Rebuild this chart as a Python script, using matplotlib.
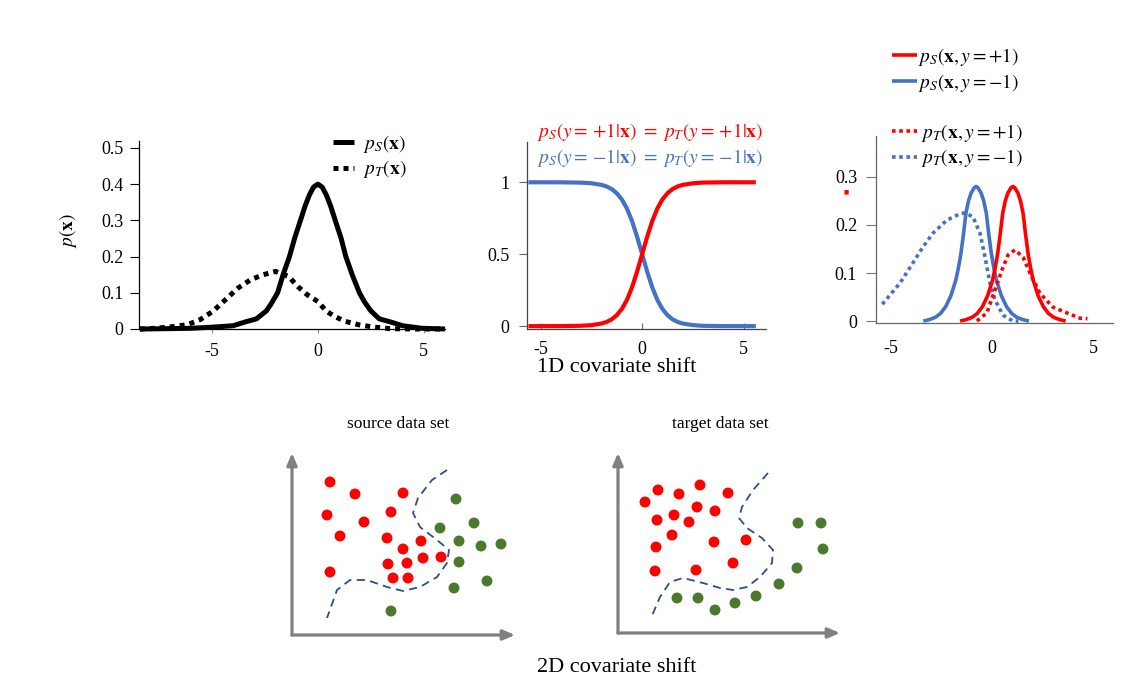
import matplotlib
matplotlib.use("Agg")
import matplotlib.pyplot as plt

plt.rcParams["font.family"] = ["Liberation Serif", "DejaVu Serif"]
plt.rcParams["mathtext.fontset"] = "stix"
plt.rcParams["axes.unicode_minus"] = False

RED = "#FF0000"
BLUE = "#4472C4"
GREEN = "#4B7A2E"
DASH_BLUE = "#2C4D8E"
GRAY = "#808080"

# ---------------- panel 1: marginal densities ----------------
p1_x_s = [-8.4, -7, -6, -5, -4, -3.4, -2.9, -2.43, -2.2, -1.9, -1.64, -1.34, -1.1, -0.82, -0.6, -0.4,
          -0.2, 0, 0.2, 0.4, 0.6, 0.82, 1.1, 1.32, 1.62, 1.96, 2.2, 2.5, 2.9, 3.4, 4.0, 4.9, 6.0]
p1_ps = [0, 0.001, 0.002, 0.005, 0.009, 0.02, 0.028, 0.05, 0.07, 0.1, 0.15, 0.2, 0.25, 0.3, 0.34, 0.37,
         0.392, 0.40, 0.392, 0.37, 0.34, 0.3, 0.25, 0.2, 0.15, 0.1, 0.075, 0.05, 0.028, 0.02, 0.009, 0.002, 0.0]
p1_x_t = [-8.4, -7.9, -7.0, -6.15, -5.55, -4.95, -4.36, -3.77, -3.17, -2.57, -2.0, -1.38, -0.94,
          -0.49, 0, 0.4, 0.85, 1.3, 1.9, 2.6, 3.4, 4.5, 6.0]
p1_pt = [0.0, 0.001, 0.0055, 0.012, 0.026, 0.049, 0.081, 0.113, 0.136, 0.15, 0.159, 0.145, 0.117,
         0.094, 0.076, 0.049, 0.033, 0.021, 0.012, 0.0055, 0.001, 0.0, 0.0]

# ---------------- panel 2: class posteriors ----------------
p2_x = [-5.6, -5, -4, -3, -2.5, -2, -1.75, -1.5, -1.25, -1, -0.75, -0.5, -0.25, 0,
        0.25, 0.5, 0.75, 1, 1.25, 1.5, 1.75, 2, 2.5, 3, 4, 5, 5.6]
p2_pos = [0.0, 0.0, 0.0003, 0.0025, 0.0067, 0.018, 0.029, 0.047, 0.076, 0.119, 0.182, 0.269, 0.378, 0.5,
          0.622, 0.731, 0.818, 0.881, 0.924, 0.953, 0.971, 0.982, 0.993, 0.998, 1.0, 1.0, 1.0]
p2_neg = [1.0, 1.0, 0.9997, 0.9975, 0.9933, 0.982, 0.971, 0.953, 0.924, 0.881, 0.818, 0.731, 0.622, 0.5,
          0.378, 0.269, 0.182, 0.119, 0.076, 0.047, 0.029, 0.018, 0.007, 0.002, 0.0, 0.0, 0.0]

# ---------------- panel 3: joint densities ----------------
joint_peak = [0, 0.003, 0.008, 0.016, 0.03, 0.052, 0.085, 0.11, 0.14, 0.18, 0.225, 0.25, 0.266, 0.277,
              0.28, 0.277, 0.266, 0.25, 0.225, 0.18, 0.14, 0.11, 0.085, 0.052, 0.03, 0.016, 0.008, 0.003, 0]
ps_neg_x = [-3.38, -3.08, -2.78, -2.53, -2.28, -2.03, -1.78, -1.655, -1.53, -1.405, -1.28, -1.155, -1.03, -0.88,
            -0.78, -0.68, -0.53, -0.405, -0.28, -0.155, -0.03, 0.095, 0.22, 0.47, 0.72, 0.97, 1.22, 1.52, 1.82]
ps_pos_x = [-1.57, -1.27, -0.97, -0.72, -0.47, -0.22, 0.03, 0.155, 0.28, 0.405, 0.53, 0.655, 0.78, 0.93,
            1.03, 1.13, 1.28, 1.405, 1.53, 1.655, 1.78, 1.905, 2.03, 2.28, 2.53, 2.78, 3.03, 3.33, 3.63]
pt_neg_x = [-5.4, -4.53, -3.89, -3.4, -2.9, -2.22, -1.58, -1.33, -0.94, -0.59, -0.34, -0.1, 0.15, 0.54, 1.03, 1.3]
pt_neg = [0.035, 0.079, 0.121, 0.154, 0.183, 0.21, 0.223, 0.225, 0.217, 0.183, 0.133, 0.079, 0.044, 0.0125, 0.0, 0.0]
pt_pos_x = [-0.74, -0.25, 0.15, 0.49, 0.79, 1.13, 1.53, 1.87, 2.36, 3.0, 3.69, 4.33, 4.7]
pt_pos = [0.0, 0.017, 0.065, 0.106, 0.1375, 0.148, 0.133, 0.1, 0.058, 0.029, 0.017, 0.006, 0.005]

# ---------------- 2D scatter: source ----------------
src_red_x = [38, 63, 111, 35, 72, 99, 48, 95, 129, 111, 96, 115, 131, 149, 38, 101, 116]
src_red_y = [153, 141, 142, 120, 113, 123, 99, 97, 94, 86, 71, 72, 77, 78, 63, 57, 57]
src_grn_x = [164, 182, 148, 167, 189, 209, 167, 162, 195, 99]
src_grn_y = [136, 112, 107, 94, 89, 91, 73, 47, 54, 24]
src_bnd_x = [155, 140, 126, 121, 128, 145, 157, 155, 145, 128, 111, 95, 75, 58, 45, 35]
src_bnd_y = [165, 155, 137, 122, 108, 95, 85, 72, 58, 48, 44, 48, 55, 55, 45, 17]

# ---------------- 2D scatter: target ----------------
tgt_red_x = [40, 61, 82, 110, 27, 79, 97, 39, 56, 71, 54, 38, 96, 128, 115, 37, 78]
tgt_red_y = [143, 139, 148, 140, 131, 126, 122, 113, 118, 111, 98, 86, 91, 93, 70, 62, 63]
tgt_grn_x = [180, 203, 205, 179, 161, 138, 117, 97, 80, 59]
tgt_grn_y = [110, 110, 84, 65, 49, 37, 30, 23, 35, 35]
tgt_bnd_x = [150, 135, 124, 121, 129, 144, 155, 154, 142, 129, 115, 102, 85, 65, 52, 42, 33]
tgt_bnd_y = [160, 143, 126, 115, 105, 95, 83, 70, 56, 46, 43, 45, 50, 55, 51, 36, 15]

W, H = 1148, 691


def box(l, t, r, b):
    # pixel box -> figure fraction rect
    return [l / W, 1 - b / H, (r - l) / W, (b - t) / H]


fig = plt.figure(figsize=(W / 100, H / 100), dpi=100)
DOT = (0, (1, 1))
TICK_FS = 13
LEG_FS = 14

# panel 1
ax1 = fig.add_axes(box(139, 141, 445, 329))
ls_, = ax1.plot(p1_x_s, p1_ps, color="black", lw=3.6, solid_capstyle="butt",
                solid_joinstyle="round", clip_on=False)
lt_, = ax1.plot(p1_x_t, p1_pt, color="black", lw=3.6, ls=DOT, dash_capstyle="butt", clip_on=False)
ax1.set_xlim(-8.44, 6.0)
ax1.set_ylim(0, 0.519)
ax1.set_xticks([-5, 0, 5])
ax1.set_xticklabels(["-5", "0", "5"])
ax1.set_yticks([0, 0.1, 0.2, 0.3, 0.4, 0.5])
ax1.set_yticklabels(["0", "0.1", "0.2", "0.3", "0.4", "0.5"])
ax1.tick_params(axis="y", length=6.5, width=0.8, pad=4.5, labelsize=TICK_FS)
ax1.tick_params(axis="x", length=3, width=0.8, pad=7, labelsize=TICK_FS, color="#888")
ax1.legend([ls_, lt_], [r"$p_S(\mathbf{x})$", r"$p_T(\mathbf{x})$"], loc="center left",
           bbox_to_anchor=(333 / W, 1 - 156.5 / H), bbox_transform=fig.transFigure,
           frameon=False, fontsize=LEG_FS, handlelength=1.1, handletextpad=0.45,
           labelspacing=0.2, borderpad=0, borderaxespad=0)
fig.text(68 / W, 1 - 230 / H, r"$p(\mathbf{x})$", rotation=90, ha="center", va="center", fontsize=14)

# panel 2
ax2 = fig.add_axes(box(527, 142, 766, 329))
ax2.plot(p2_x, p2_neg, color=BLUE, lw=3, solid_capstyle="butt", clip_on=False)
ax2.plot(p2_x, p2_pos, color=RED, lw=3, solid_capstyle="butt", clip_on=False)
ax2.set_xlim(-5.67, 6.1)
ax2.set_ylim(-0.02, 1.28)
ax2.set_xticks([-5, 0, 5])
ax2.set_xticklabels(["-5", "0", "5"])
ax2.set_yticks([0, 0.5, 1])
ax2.set_yticklabels(["0", "0.5", "1"])
ax2.tick_params(axis="y", length=6, width=0.8, pad=6.5, labelsize=TICK_FS, color="#666")
ax2.tick_params(axis="x", length=4, width=0.8, direction="in", pad=9, labelsize=TICK_FS, color="#666")
ax2.text(537 / W, 1 - 132 / H, r"$p_S(y{=}\,{+}1|\mathbf{x})\ {=}\ p_T(y{=}\,{+}1|\mathbf{x})$",
         transform=fig.transFigure, color=RED, fontsize=14, ha="left", va="center")
ax2.text(537 / W, 1 - 158 / H, r"$p_S(y{=}\,{-}1|\mathbf{x})\ {=}\ p_T(y{=}\,{-}1|\mathbf{x})$",
         transform=fig.transFigure, color=BLUE, fontsize=14, ha="left", va="center")
fig.text(617 / W, 1 - 368 / H, "1D covariate shift", ha="center", va="center", fontsize=16)

# panel 3
ax3 = fig.add_axes(box(876, 136, 1113, 323))
h_tn, = ax3.plot(pt_neg_x, pt_neg, color=BLUE, lw=2.6, ls=DOT, dash_capstyle="butt", clip_on=False)
h_sn, = ax3.plot(ps_neg_x, joint_peak, color=BLUE, lw=2.6, solid_capstyle="butt", clip_on=False)
h_tp, = ax3.plot(pt_pos_x, pt_pos, color=RED, lw=2.6, ls=DOT, dash_capstyle="butt", clip_on=False)
h_sp, = ax3.plot(ps_pos_x, joint_peak, color=RED, lw=2.6, solid_capstyle="butt", clip_on=False)
ax3.set_xlim(-5.71, 5.96)
ax3.set_ylim(-0.004, 0.385)
ax3.set_xticks([-5, 0, 5])
ax3.set_xticklabels(["-5", "0", "5"])
ax3.set_yticks([0, 0.1, 0.2, 0.3])
ax3.set_yticklabels(["0", "0.1", "0.2", "0.3"])
ax3.tick_params(axis="y", length=7, width=0.8, pad=6.5, labelsize=TICK_FS, color="#777")
ax3.tick_params(axis="x", length=0, pad=12, labelsize=TICK_FS)
leg_s = ax3.legend([h_sp, h_sn], [r"$p_S(\mathbf{x},y=+1)$", r"$p_S(\mathbf{x},y=-1)$"],
                   loc="center left", bbox_to_anchor=(892 / W, 1 - 70 / H),
                   bbox_transform=fig.transFigure, frameon=False, fontsize=LEG_FS,
                   handlelength=1.3, handletextpad=0.05, labelspacing=0.2,
                   borderpad=0, borderaxespad=0)
ax3.add_artist(leg_s)
ax3.legend([h_tp, h_tn], [r"$p_T(\mathbf{x},y=+1)$", r"$p_T(\mathbf{x},y=-1)$"],
           loc="center left", bbox_to_anchor=(892 / W, 1 - 145.5 / H),
           bbox_transform=fig.transFigure, frameon=False, fontsize=LEG_FS,
           handlelength=1.3, handletextpad=0.2, labelspacing=0.2,
           borderpad=0, borderaxespad=0)
ax3.text(-0.127, 0.70, "■", transform=ax3.transAxes, color=RED, fontsize=4,
         ha="center", va="center", family="DejaVu Sans")

for ax, col in [(ax1, "black"), (ax2, "#444"), (ax3, "#666")]:
    ax.spines["top"].set_visible(False)
    ax.spines["right"].set_visible(False)
    ax.spines["left"].set_color(col)
    ax.spines["bottom"].set_color(col)
    ax.spines["left"].set_linewidth(0.9)
    ax.spines["bottom"].set_linewidth(0.9)
    ax.set_facecolor("none")


# ---------------- bottom 2D panels ----------------
def scatter_panel(rect, xmax, ymax, rx, ry, gx, gy, bx, by, title, tx):
    ax = fig.add_axes(rect)
    ax.set_xlim(0, xmax)
    ax.set_ylim(0, ymax)
    ax.axis("off")
    ax.plot(bx, by, color=DASH_BLUE, lw=1.3, ls=(0, (4.5, 3)), clip_on=False,
            solid_joinstyle="round")
    ax.scatter(rx, ry, s=62, color=RED, edgecolors="none", clip_on=False, zorder=3)
    ax.scatter(gx, gy, s=62, color=GREEN, edgecolors="none", clip_on=False, zorder=3)
    for end in [(1, 0), (0, 1)]:
        ax.annotate("", xy=end, xytext=(0, 0), xycoords="axes fraction",
                    arrowprops=dict(arrowstyle="-|>,head_length=0.7,head_width=0.3",
                                    color=GRAY, lw=2.3, shrinkA=0, shrinkB=0))
    fig.text(tx / W, 1 - 424 / H, title, ha="center", va="center", fontsize=12.5)
    return ax


scatter_panel(box(292, 453, 515, 635), 223, 182, src_red_x, src_red_y, src_grn_x, src_grn_y,
              src_bnd_x, src_bnd_y, "source data set", 398)
scatter_panel(box(618, 453, 840, 633), 222, 180, tgt_red_x, tgt_red_y, tgt_grn_x, tgt_grn_y,
              tgt_bnd_x, tgt_bnd_y, "target data set", 720)
fig.text(617 / W, 1 - 668 / H, "2D covariate shift", ha="center", va="center", fontsize=16)

fig.savefig("out.png", dpi=100)
